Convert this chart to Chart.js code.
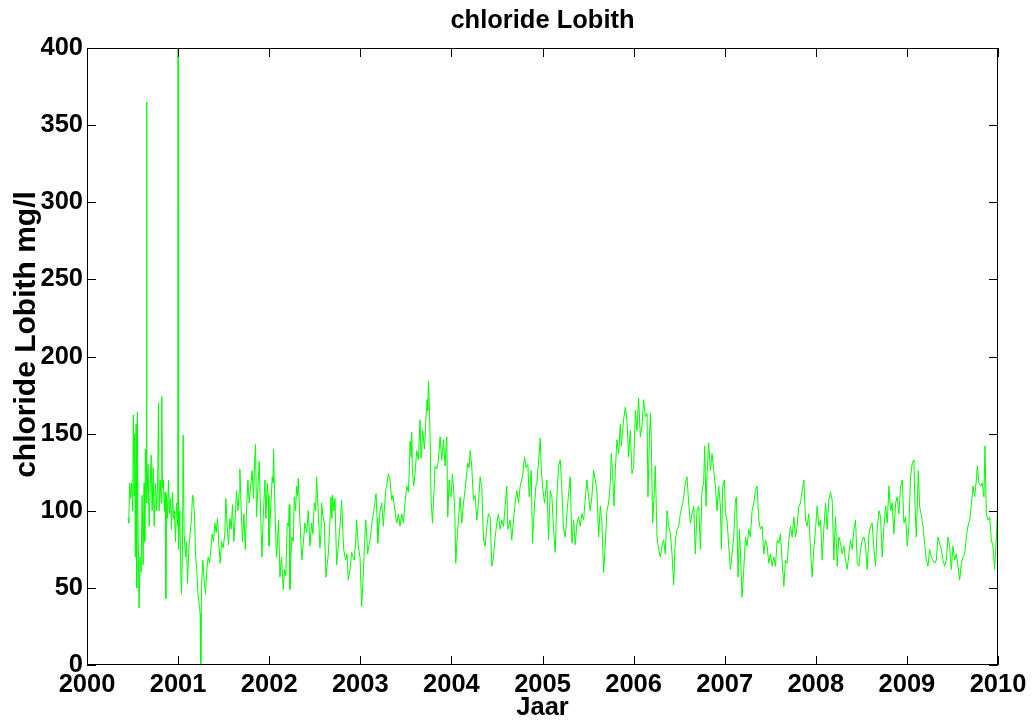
<!DOCTYPE html>
<html>
<head>
<meta charset="utf-8">
<title>chloride Lobith</title>
<script src="https://cdn.jsdelivr.net/npm/chart.js@4/dist/chart.umd.min.js"></script>
<style>
  html, body { margin: 0; padding: 0; background: #fff; }
  #wrap { width: 1034px; height: 726px; }
</style>
</head>
<body>
<div id="wrap"><canvas id="chart" width="1034" height="726"></canvas></div>
<script>
// tick labels
const yearTicks = [2000, 2001, 2002, 2003, 2004, 2005, 2006, 2007, 2008, 2009, 2010];
const valueTicks = [0, 50, 100, 150, 200, 250, 300, 350, 400];
const yLabel = 'chloride Lobith mg/l';

const t2000 = [.451,.458,.469,.480,.491, .502,.509,.517,.524,.531, .539,.546,.553,.560,.571, .583,.594,.605,.616,.627,
  .634,.641,.651,.654,.657, .671,.682,.693,.704,.715, .726,.737,.751,.766,.777, .784,.792,.803,.814,.821,
  .828,.839,.850,.858,.865, .872,.883,.894,.905,.916, .927,.938,.949,.960,.971, .982,.997];
const c2000 = [95,92,118,108,118, 100,162,110,150,70, 156,50,164,90,37, 70,60,110,65,118,
  80,140,110,365,105, 130,90,115,136,100, 128,90,118,100,125, 170,100,120,105,174,
  115,120,100,112,43, 110,95,120,98,108, 88,112,95,100,80, 105,90];

const t2001 = [.000,.004,.019,.030,.037, .048,.055,.066,.081,.092, .103,.118,.132,.147,.158, .169,.180,.191,.205,.220,
  .235,.242,.249,.257,.271, .286,.301,.315,.330,.345, .359,.374,.389,.403,.418, .433,.447,.462,.477,.495,
  .513,.524,.539,.553,.568, .583,.597,.612,.627,.641, .656,.671,.678,.693,.707, .722,.737,.751,.766,.780,
  .795,.813,.828,.839,.850, .861,.876,.890,.905,.920, .934,.953,.964,.978,.989, .997];
const c2001 = [400,75,100,60,46, 75,149,85,70,80, 53,75,85,95,110, 108,96,72,62,44,
  38,33,1,50,68, 55,46,62,70,66, 74,85,80,92,86, 95,78,66,80,76,
  85,108,90,78,95, 88,104,80,96,113, 100,112,127,100,80, 98,75,100,120,105,
  115,126,108,131,143, 96,115,132,100,70, 95,120,95,118,110, 77];

const t2002 = [.008,.019,.033,.041,.048, .059,.070,.081,.092,.103, .118,.136,.154,.169,.183, .198,.213,.220,.227,.238,
  .249,.264,.275,.290,.301, .312,.319,.334,.348,.359, .374,.392,.411,.429,.447, .466,.480,.495,.510,.520,
  .531,.542,.557,.568,.575, .590,.605,.623,.638,.649, .663,.678,.689,.696,.711, .722,.740,.755,.766,.780,
  .795,.806,.817,.839,.854, .868,.887,.905,.920,.934, .949,.960,.978,.997];
const c2002 = [90,105,122,118,140, 110,88,70,82,94, 57,70,49,62,58, 92,90,104,49,70,
  83,80,109,100,116, 110,121,98,80,68, 79,92,86,100,77, 92,85,105,100,122,
  108,95,76,85,105, 96,92,57,66,72, 88,109,95,110,100, 108,65,75,83,92,
  107,90,75,68,72, 55,62,73,70,68, 80,94,77,70];

const t2003 = [.015,.033,.048,.059,.070, .081,.096,.107,.121,.132, .143,.154,.173,.184,.191, .206,.217,.235,.253,.268,
  .279,.293,.308,.326,.345, .359,.374,.389,.400,.418, .436,.455,.473,.491,.510, .528,.539,.546,.557,.564,
  .572,.586,.601,.619,.638, .656,.667,.685,.704,.718, .733,.740,.748,.759,.766, .777,.792,.803,.821,.839,
  .858,.876,.894,.912,.931, .949,.960,.975,.986,.997];
const c2003 = [38,59,80,94,85, 72,78,81,88,94, 98,103,111,95,79, 92,100,105,90,104,
  113,118,124,120,107, 110,103,96,92,98, 90,98,92,105,116, 112,128,145,135,151,
  126,116,124,139,133, 159,134,152,140,157, 172,165,184,165,148, 107,92,105,129,127,
  133,148,133,146,129, 148,96,120,110,109];

const t2004 = [.011,.026,.037,.048,.059, .070,.085,.096,.114,.132, .143,.158,.169,.180,.195, .206,.224,.242,.260,.279,
  .297,.315,.334,.352,.370, .389,.407,.425,.444,.462, .480,.499,.517,.535,.554, .572,.590,.608,.619,.645,
  .663,.682,.700,.718,.737, .755,.781,.803,.817,.839, .854,.876,.890,.912,.927, .938,.956,.975,.986];
const c2004 = [124,112,100,66,78, 88,100,109,92,105, 110,118,125,131,128, 139,128,107,110,94,
  105,122,115,81,77, 90,98,96,64,70, 83,92,98,88,94, 90,103,116,88,94,
  81,94,105,113,105, 116,122,135,128,130, 109,126,79,103,116, 118,131,147,128];

const t2005 = [.000,.022,.048,.066,.085, .103,.121,.140,.158,.176, .195,.213,.231,.250,.268, .286,.304,.323,.341,.359,
  .378,.396,.414,.433,.451, .469,.487,.506,.524,.542, .561,.579,.597,.616,.634, .652,.671,.689,.707,.726,
  .744,.755,.770,.784,.799, .817,.836,.854,.865,.879, .890,.909,.927,.945,.964, .982];
const c2005 = [116,105,120,81,113, 109,88,73,109,129, 133,113,88,83,98, 111,122,79,94,78,
  92,96,90,98,94, 107,120,109,100,109, 126,120,113,83,103, 92,60,79,100,105,
  118,137,124,103,126, 146,137,156,142,152, 159,167,159,135,152, 124];

const t2006 = [.000,.019,.037,.055,.074, .092,.110,.129,.147,.158, .173,.184,.194,.209,.228, .238,.257,.275,.293,.312,
  .330,.348,.367,.385,.403, .422,.440,.458,.477,.495, .513,.532,.550,.568,.586, .605,.623,.641,.660,.678,
  .696,.715,.733,.751,.769, .780,.795,.806,.824,.843, .861,.879,.898,.916,.934, .953,.964,.978,.997];
const c2006 = [128,165,152,173,148, 155,172,161,163,109, 146,163,146,92,113, 129,83,75,70,77,
  81,72,100,90,86, 72,52,81,88,90, 98,103,109,118,122, 105,92,98,103,72,
  100,103,75,113,118, 142,103,124,144,126, 137,126,116,100,116, 103,75,116,120];

const t2007 = [.008,.026,.044,.063,.081, .099,.118,.129,.147,.162, .173,.191,.209,.228,.246, .264,.282,.301,.319,.337,
  .356,.374,.392,.411,.429, .447,.466,.484,.502,.521, .539,.557,.576,.594,.612, .630,.649,.667,.685,.704,
  .722,.740,.759,.777,.795, .814,.832,.850,.869,.887, .905,.923,.942,.960,.978, .997];
const c2007 = [98,94,77,62,72, 83,107,109,57,88, 72,44,62,83,77, 88,83,100,105,113,
  116,94,88,90,72, 81,77,66,72,64, 70,64,81,79,85, 68,51,68,66,81,
  90,83,96,83,90, 103,105,113,120,94, 90,98,75,57,75, 88];

const t2008 = [.015,.033,.052,.070,.088, .107,.125,.143,.162,.180, .198,.216,.235,.253,.271, .290,.308,.326,.345,.363,
  .381,.400,.418,.436,.455, .473,.491,.510,.528,.546, .564,.583,.601,.619,.638, .656,.674,.693,.711,.729,
  .748,.766,.784,.803,.821, .839,.857,.876,.894,.912, .931,.949,.967,.986];
const c2008 = [103,90,94,68,88, 105,88,107,112,107, 68,96,64,83,79, 72,77,68,62,72,
  81,75,88,94,66, 64,75,81,83,77, 62,85,90,92,75, 64,88,100,96,70,
  90,103,92,116,100, 105,85,105,109,98, 116,120,92,96];

const t2009 = [.004,.022,.040,.059,.077, .088,.103,.125,.140,.161, .176,.198,.213,.231,.249, .268,.286,.304,.323,.341,
  .359,.378,.396,.414,.433, .451,.469,.487,.506,.524, .542,.561,.579,.597,.616, .634,.652,.671,.689,.707,
  .726,.744,.762,.773,.791, .810,.828,.846,.857,.872, .890,.909,.927,.945,.963, .982,.993,.998];
const c2009 = [77,90,122,131,133, 105,83,126,103,96, 90,77,68,64,75, 70,68,66,68,83,
  79,75,68,64,68, 83,77,62,77,68, 72,64,55,66,70, 72,83,90,94,103,
  116,109,120,129,118, 116,118,109,142,98, 94,96,81,77,62, 83,98,129];

const years = [
  [2000, t2000, c2000], [2001, t2001, c2001], [2002, t2002, c2002], [2003, t2003, c2003],
  [2004, t2004, c2004], [2005, t2005, c2005], [2006, t2006, c2006], [2007, t2007, c2007],
  [2008, t2008, c2008], [2009, t2009, c2009]
];

const points = [];
years.forEach(([year, t, c]) => {
  t.forEach((f, i) => points.push({ x: year + f, y: c[i] }));
});

const family = "'Liberation Sans', Arial, Helvetica, sans-serif";
const font = { family, weight: 'bold', size: 25.5, lineHeight: 1.2 };

// matlab style box with inward tick marks on all four sides, plus the y label
const boxTicks = {
  id: 'boxTicks',
  afterDatasetsDraw(chart) {
    const { ctx, chartArea: a, scales: { x, y } } = chart;
    const len = 9;
    ctx.save();
    ctx.strokeStyle = '#000';
    ctx.lineWidth = 1;
    ctx.strokeRect(a.left + 0.5, a.top + 0.5, a.right - a.left - 1, a.bottom - a.top - 1);
    ctx.beginPath();
    x.ticks.forEach(t => {
      const px = Math.round(x.getPixelForValue(t.value)) + 0.5;
      ctx.moveTo(px, a.bottom); ctx.lineTo(px, a.bottom - len);
      ctx.moveTo(px, a.top); ctx.lineTo(px, a.top + len);
    });
    y.ticks.forEach(t => {
      const py = Math.round(y.getPixelForValue(t.value)) + 0.5;
      ctx.moveTo(a.left, py); ctx.lineTo(a.left + len, py);
      ctx.moveTo(a.right, py); ctx.lineTo(a.right - len, py);
    });
    ctx.stroke();

    // y label sits a little above the middle of the axis, as in the original figure
    ctx.translate(27, (a.top + a.bottom) / 2 - 22);
    ctx.rotate(-Math.PI / 2);
    ctx.font = "bold 30px " + family;
    ctx.fillStyle = '#000';
    ctx.textAlign = 'center';
    ctx.textBaseline = 'middle';
    ctx.fillText(yLabel, 0, 0);
    ctx.restore();
  }
};

new Chart(document.getElementById('chart'), {
  type: 'line',
  data: {
    datasets: [{
      data: points,
      borderColor: '#00ff00',
      borderWidth: 1,
      pointRadius: 0,
      tension: 0,
      fill: false
    }]
  },
  options: {
    responsive: false,
    animation: false,
    parsing: false,
    layout: { padding: { left: 0, right: 36, top: 0, bottom: 0 } },
    plugins: {
      legend: { display: false },
      tooltip: { enabled: false },
      title: {
        display: true,
        text: 'chloride Lobith',
        fullSize: false,
        color: '#000',
        font: font,
        padding: { top: 6, bottom: 11.4 }
      }
    },
    scales: {
      x: {
        type: 'linear',
        min: 2000,
        max: 2010,
        grid: { display: false, drawTicks: false },
        border: { display: false },
        afterBuildTicks: s => { s.ticks = yearTicks.map(v => ({ value: v })); },
        ticks: { color: '#000', font: font, padding: 5, maxRotation: 0, autoSkip: false, callback: v => String(v) },
        title: { display: true, text: 'Jaar', color: '#000', font: font, padding: { top: 0, bottom: 3 } },
        afterFit: s => { s.height = 61; }
      },
      y: {
        type: 'linear',
        min: 0,
        max: 400,
        grid: { display: false, drawTicks: false },
        border: { display: false },
        afterBuildTicks: s => { s.ticks = valueTicks.map(v => ({ value: v })); },
        ticks: { color: '#000', font: font, padding: 4, autoSkip: false, callback: v => String(v) },
        afterFit: s => { s.width = 87; }
      }
    }
  },
  plugins: [boxTicks]
});
</script>
</body>
</html>
